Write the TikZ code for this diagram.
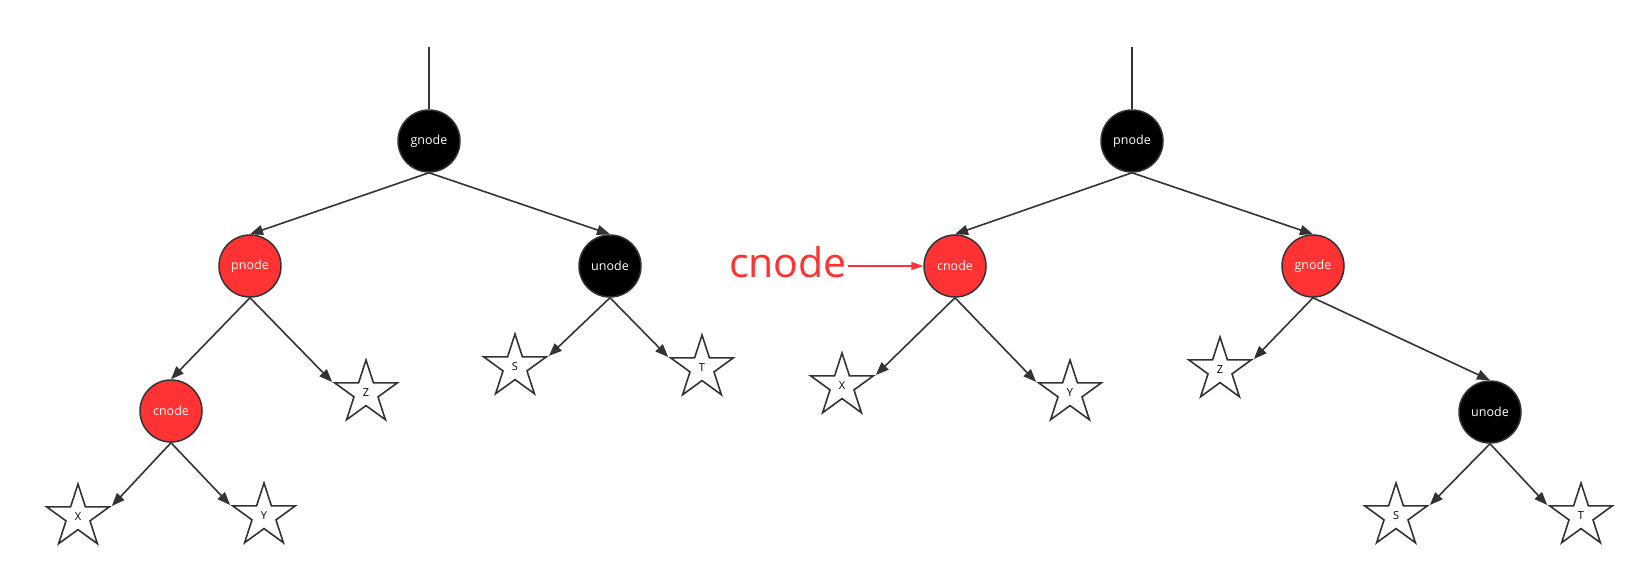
\documentclass[tikz,border=0pt]{standalone}
\usepackage{fontspec}
\setmainfont{Open Sans}
\usetikzlibrary{shapes.geometric,arrows.meta}
\definecolor{rbred}{HTML}{FF3333}
\definecolor{edgegray}{HTML}{333333}
\begin{document}
\begin{tikzpicture}[x=1pt,y=-1pt,
  every node/.style={font=\fontsize{12.5}{14}\selectfont},
  rbnode/.style={circle,draw=edgegray,line width=1.5pt,minimum size=62pt,inner sep=0pt,text=white},
  rednode/.style={rbnode,fill=rbred},
  blacknode/.style={rbnode,fill=black},
  leaf/.style={star,star points=5,star point ratio=2.618,draw=edgegray,line width=1.6pt,
    minimum size=66pt,inner sep=0pt,font=\fontsize{11}{13}\selectfont},
  edge/.style={draw=edgegray,line width=1.6pt,-{Triangle[length=13pt,width=10pt]}}]
\useasboundingbox (0,0) rectangle (1645,580);
% left tree
\coordinate (ltop) at (429,47);
\node[blacknode] (lg) at (429,141) {gnode};
\node[rednode] (lp) at (250,266) {pnode};
\node[blacknode] (lu) at (610,266) {unode};
\node[rednode] (lc) at (171,411) {cnode};
\node[leaf] (lz) at (366,393) {Z};
\node[leaf] (ls) at (515,367) {S};
\node[leaf] (lt) at (702,368) {T};
\node[leaf] (lx) at (78,517) {X};
\node[leaf] (ly) at (264,516) {Y};
\draw[draw=edgegray,line width=1.6pt] (ltop) -- (lg.north);
\foreach \a/\b in {lg/lp,lg/lu,lp/lc}
  \draw[edge] (\a.south) -- (\b.north);
% stars: left child gets the right point, right child the left point
\foreach \a/\b in {lc/lx,lu/ls}
  \draw[edge] (\a.south) -- (\b.outer point 5);
\foreach \a/\b in {lc/ly,lp/lz,lu/lt}
  \draw[edge] (\a.south) -- (\b.outer point 2);
% right tree
\coordinate (rtop) at (1132,47);
\node[blacknode] (rp) at (1132,141) {pnode};
\node[rednode] (rc) at (955,266) {cnode};
\node[rednode] (rg) at (1313,266) {gnode};
\node[blacknode] (ru) at (1490,412) {unode};
\node[leaf] (rx) at (842,386) {X};
\node[leaf] (ry) at (1070,393) {Y};
\node[leaf] (rz) at (1220,370) {Z};
\node[leaf] (rs) at (1396,516) {S};
\node[leaf] (rt) at (1581,516) {T};
\draw[draw=edgegray,line width=1.6pt] (rtop) -- (rp.north);
\foreach \a/\b in {rp/rc,rp/rg,rg/ru}
  \draw[edge] (\a.south) -- (\b.north);
\foreach \a/\b in {rc/rx,rg/rz,ru/rs}
  \draw[edge] (\a.south) -- (\b.outer point 5);
\foreach \a/\b in {rc/ry,ru/rt}
  \draw[edge] (\a.south) -- (\b.outer point 2);
% pointer label
\node[text=rbred,font=\fontsize{41}{44}\selectfont,inner sep=1pt,anchor=east] (lbl) at (848,262) {cnode};
\draw[rbred,line width=1.3pt,-{Triangle[length=12pt,width=8pt]}] (lbl.east |- rc.west) -- (rc.west);
\end{tikzpicture}
\end{document}
